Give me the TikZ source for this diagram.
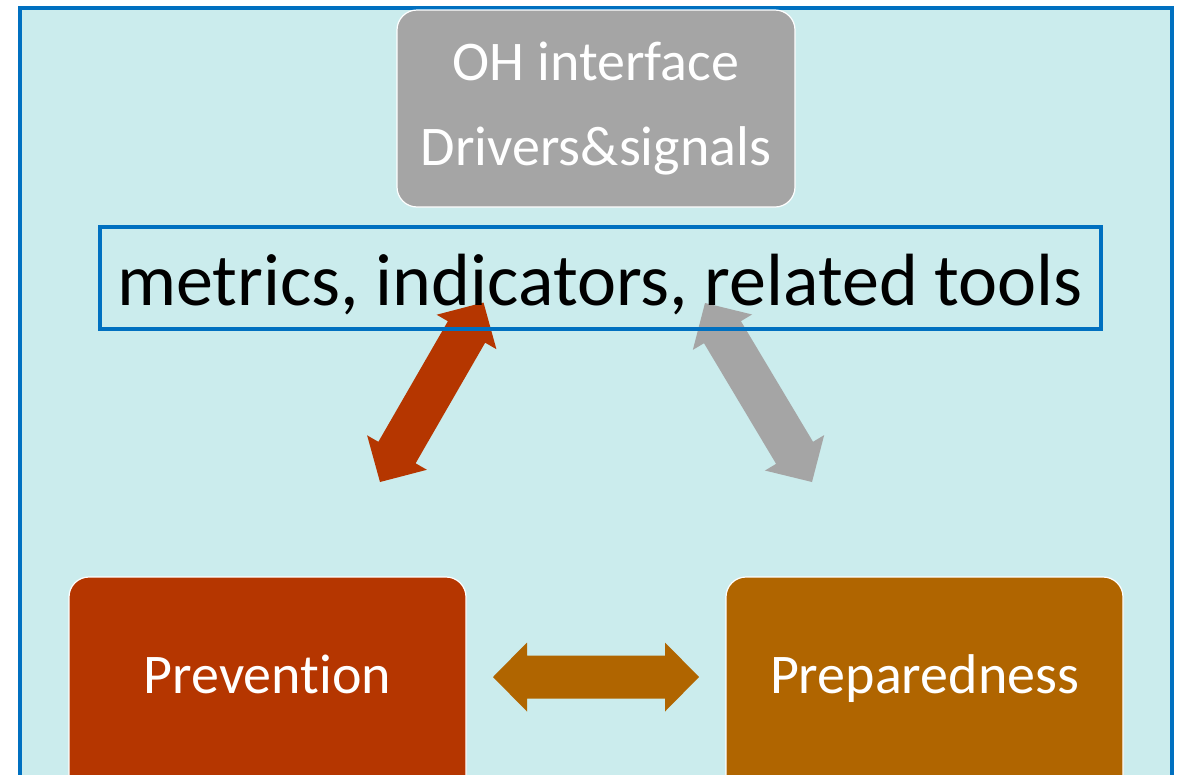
\documentclass[tikz,border=0pt]{standalone}
\usepackage{fontspec}
\setmainfont[Ligatures={NoCommon}]{Carlito}
\usetikzlibrary{calc}
\definecolor{bgcyan}{RGB}{203,236,237}
\definecolor{frameblue}{RGB}{0,112,192}
\definecolor{boxgray}{RGB}{165,165,165}
\definecolor{prevred}{RGB}{181,54,0}
\definecolor{prepor}{RGB}{176,101,0}
\newcommand\fatarrow[3]{%
  \path ($(#1)!34pt!(#2)$) coordinate (fah1) ($(#2)!34pt!(#1)$) coordinate (fah2);
  \fill[#3] (#1) -- ($(fah1)!34.5pt!90:(#2)$) -- ($(fah1)!21.5pt!90:(#2)$)
    -- ($(fah2)!21.5pt!-90:(#1)$) -- ($(fah2)!34.5pt!-90:(#1)$) -- (#2)
    -- ($(fah2)!34.5pt!90:(#1)$) -- ($(fah2)!21.5pt!90:(#1)$)
    -- ($(fah1)!21.5pt!-90:(#2)$) -- ($(fah1)!34.5pt!-90:(#2)$) -- cycle;}
\begin{document}
\begin{tikzpicture}[x=1pt,y=-1pt,
  roundbox/.style={rectangle, rounded corners=20pt, draw=white, line width=1.2pt,
    inner sep=0pt, text=white},
  graybox/.style={roundbox, fill=boxgray, minimum width=398pt, minimum height=197pt,
    align=center, font=\fontsize{56}{85}\selectfont},
  bottombox/.style={roundbox, minimum width=397pt, text height=116pt, text depth=150pt,
    anchor=base, font=\fontsize{56}{66}\selectfont},
  metricbox/.style={rectangle, draw=frameblue, line width=4pt, inner sep=0pt,
    minimum width=1001pt, text height=78pt, text depth=24pt, anchor=base,
    font=\fontsize{74}{88}\selectfont}]
\useasboundingbox (0,0) rectangle (1183,774);
\begin{scope}
\clip (0,0) rectangle (1183,774);
\fill[white] (0,0) rectangle (1183,774);
\draw[frameblue, line width=4pt, fill=bgcyan] (20,7.5) rectangle (1172,840);
\node[graybox] (oh) at (596,108.5) {OH interface\\Drivers\&signals};
\node[bottombox, fill=prevred] (prev) at (267.5,693) {Prevention};
\node[bottombox, fill=prepor] (prep) at (924.5,693) {Preparedness};
\coordinate (ra1) at (380,482);
\coordinate (ra2) at (483.5,302.5);
\coordinate (ga1) at (705,303);
\coordinate (ga2) at (812,482);
\coordinate (ha1) at (493,677);
\coordinate (ha2) at (699,677);
\fatarrow{ra1}{ra2}{prevred}
\fatarrow{ga1}{ga2}{boxgray}
\fatarrow{ha1}{ha2}{prepor}
\node[metricbox] (met) at (600,305) {metrics, indicators, related tools};
\end{scope}
\end{tikzpicture}
\end{document}
